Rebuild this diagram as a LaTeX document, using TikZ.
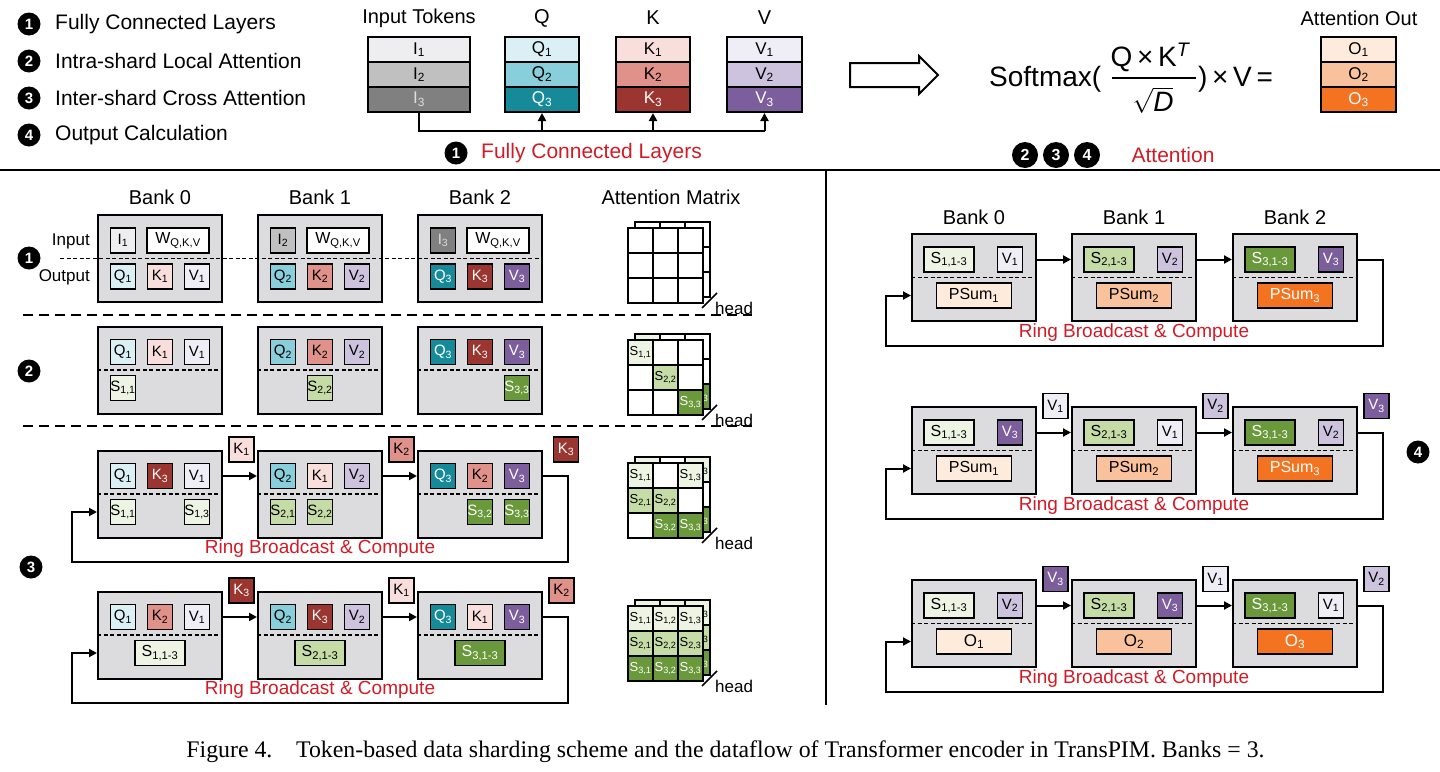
\documentclass[tikz,border=0pt]{standalone}
\usepackage{fontspec}
\setmainfont{Liberation Sans}
\newfontfamily\capfont{Liberation Serif}
\usetikzlibrary{arrows.meta,calc}
\definecolor{bankgray}{HTML}{DCDCDE}
\definecolor{iA}{HTML}{EEEEF0}\definecolor{iB}{HTML}{C0C0C0}\definecolor{iC}{HTML}{808080}\definecolor{iText}{HTML}{DDDDDD}
\definecolor{qA}{HTML}{DAF0F4}\definecolor{qB}{HTML}{88CEDB}\definecolor{qC}{HTML}{168A98}
\definecolor{kA}{HTML}{F8DFDB}\definecolor{kB}{HTML}{E0918A}\definecolor{kC}{HTML}{9B3530}
\definecolor{vA}{HTML}{EFEDF5}\definecolor{vB}{HTML}{CEC3DE}\definecolor{vC}{HTML}{7C5E9C}
\definecolor{sA}{HTML}{EEF4E3}\definecolor{sB}{HTML}{C5DCA6}\definecolor{sC}{HTML}{6A993B}
\definecolor{oA}{HTML}{FEEBDC}\definecolor{oB}{HTML}{F9C29C}\definecolor{oC}{HTML}{F47320}
\definecolor{redtxt}{HTML}{D01C27}
\newcommand\fs[1]{\fontsize{#1}{#1}\selectfont}
\newcommand\sbs[1]{\textsubscript{#1}}
\tikzset{
 every node/.style={inner sep=0pt, font=\fs{15}},
 tok/.style={draw, line width=1.8pt, minimum width=25pt, minimum height=25pt, inner sep=0pt, font=\fs{15}},
 wide/.style={minimum width=50pt},
 wwide/.style={minimum width=62pt},
 pwide/.style={minimum width=75pt},
 bankbox/.style={draw, line width=2pt, fill=bankgray, minimum width=124pt, minimum height=87pt},
 stackcell/.style={draw, line width=2pt, minimum height=25pt, font=\fs{17}},
 num/.style={circle, fill=black, text=white, minimum size=23pt, inner sep=0pt, font=\bfseries\fs{15}},
 arr/.style={line width=2pt, -{Triangle[length=8pt,width=8pt]}},
 conn/.style={line width=2pt},
 ringlbl/.style={text=redtxt, font=\fs{19}},
 indash/.style={line width=1.5pt, dash pattern=on 4pt off 2.5pt},
 sepdash/.style={line width=1.5pt, dash pattern=on 10pt off 6pt},
 banklbl/.style={font=\fs{20}},
 cellln/.style={line width=1.8pt},
 ia/.style={fill=iA}, ib/.style={fill=iB}, ic/.style={fill=iC,text=iText},
 qa/.style={fill=qA}, qb/.style={fill=qB}, qc/.style={fill=qC,text=white},
 ka/.style={fill=kA}, kb/.style={fill=kB}, kc/.style={fill=kC,text=white},
 va/.style={fill=vA}, vb/.style={fill=vB}, vc/.style={fill=vC,text=white},
 sa/.style={fill=sA}, sb/.style={fill=sB}, sc/.style={fill=sC,text=white},
 oa/.style={fill=oA}, ob/.style={fill=oB}, oc/.style={fill=oC,text=white},
}
\newcommand\tk[5]{\node[tok,#2] (#1) at ($(#3)+(#4)$) {#5};}
\newcommand\bkn[2]{\node[bankbox] (#1) at (#2) {};}
\newcommand\bkd[2]{\node[bankbox] (#1) at (#2) {};\draw[indash] (#1.west) -- (#1.east);}
\newcommand\ring[3]{%
 \draw[arr] ([yshift=18pt]#1.east) -- ([yshift=18pt]#2.west);
 \draw[arr] ([yshift=18pt]#2.east) -- ([yshift=18pt]#3.west);
 \draw[arr] ([yshift=18pt]#3.east) -- ++(25,0) |- ($(#1.west)+(-25,68)$) |- ([yshift=-18pt]#1.west);
 \node[ringlbl] (#2rl) at ($(#2.center)+(0,55)$) {Ring Broadcast \& Compute};}
\newcommand\agrid[2]{\foreach \r in {0,1,2}{\foreach \c in {0,1,2}{\draw[cellln, fill=white] ($(#1,#2)+(25*\c,25*\r)$) rectangle ++(25,25);}}}
% back layer: fills for all listed cells, labels only in the right column (they peek out)
\newcommand\bcells[4]{\foreach \r/\c/\fc/\tc/\lab in {#4}{%
  \draw[cellln, fill=\fc] ($(#2,#3)+(25*\c,25*\r)$) rectangle ++(25,25);
  \ifnum\c=2 \node[anchor=west, text=\tc, font=\fs{13}] (#1\r\c) at ($(#2,#3)+(25*\c+1.5,25*\r+12.5)$) {\lab};\fi}}
\newcommand\acells[4]{\foreach \r/\c/\fc/\tc/\lab in {#4}{%
  \draw[cellln, fill=\fc] ($(#2,#3)+(25*\c,25*\r)$) rectangle ++(25,25);
  \node[anchor=west, text=\tc, font=\fs{13}] (#1\r\c) at ($(#2,#3)+(25*\c+1.5,25*\r+12.5)$) {\lab};}}
\newcommand\ahead[3]{\draw[line width=1.5pt] ($(#2,#3)+(74,80)$) -- ++(15,-15);
  \node[anchor=west,font=\fs{17}] (#1h) at ($(#2,#3)+(87,80)$) {head};}
\newcommand\amat[4]{\agrid{#2+7}{#3-6}\bcells{#1b}{#2+7}{#3-6}{#4}\agrid{#2}{#3}\acells{#1f}{#2}{#3}{#4}\ahead{#1}{#2}{#3}}
\begin{document}
\begin{tikzpicture}[x=1pt,y=-1pt]
\useasboundingbox (0,0) rectangle (1440,771);
% ---------- top legend
\node[num] (lg1) at (29,24) {1}; \node[anchor=west,font=\fs{21}] (lt1) at (55,24) {Fully Connected Layers};
\node[num] (lg2) at (29,61) {2}; \node[anchor=west,font=\fs{21}] (lt2) at (55,61) {Intra-shard Local Attention};
\node[num] (lg3) at (29,98) {3}; \node[anchor=west,font=\fs{21}] (lt3) at (55,98) {Inter-shard Cross Attention};
\node[num] (lg4) at (29,135) {4}; \node[anchor=west,font=\fs{21}] (lt4) at (55,135) {Output Calculation};
% ---------- stacks
\node[font=\fs{20}] (hin) at (419,18) {Input Tokens};
\node[stackcell, minimum width=102pt, fill=iA] (in1) at (419,49.5) {I\sbs1};
\node[stackcell, minimum width=102pt, fill=iB] (in2) at (419,74.5) {I\sbs2};
\node[stackcell, minimum width=102pt, fill=iC, text=iText] (in3) at (419,99.5) {I\sbs3};
\node[font=\fs{20}] (hq) at (542,18) {Q};
\node[stackcell, minimum width=74pt, fill=qA] (q1) at (542,49.5) {Q\sbs1};
\node[stackcell, minimum width=74pt, fill=qB] (q2) at (542,74.5) {Q\sbs2};
\node[stackcell, minimum width=74pt, fill=qC, text=white] (q3) at (542,99.5) {Q\sbs3};
\node[font=\fs{20}] (hk) at (653,18) {K};
\node[stackcell, minimum width=74pt, fill=kA] (k1) at (653,49.5) {K\sbs1};
\node[stackcell, minimum width=74pt, fill=kB] (k2) at (653,74.5) {K\sbs2};
\node[stackcell, minimum width=74pt, fill=kC, text=white] (k3) at (653,99.5) {K\sbs3};
\node[font=\fs{20}] (hv) at (764.5,18) {V};
\node[stackcell, minimum width=75pt, fill=vA] (v1) at (764.5,49.5) {V\sbs1};
\node[stackcell, minimum width=75pt, fill=vB] (v2) at (764.5,74.5) {V\sbs2};
\node[stackcell, minimum width=75pt, fill=vC, text=white] (v3) at (764.5,99.5) {V\sbs3};
\node[font=\fs{20}] (ho) at (1359,18) {Attention Out};
\node[stackcell, minimum width=75pt, fill=oA] (o1) at (1358.5,49.5) {O\sbs1};
\node[stackcell, minimum width=75pt, fill=oB] (o2) at (1358.5,74.5) {O\sbs2};
\node[stackcell, minimum width=75pt, fill=oC, text=white] (o3) at (1358.5,99.5) {O\sbs3};
\coordinate (fcl) at (0,131);
\draw[conn] (in3.south) |- (v3.south |- fcl);
\draw[arr] (q3.south |- fcl) -- (q3.south);
\draw[arr] (k3.south |- fcl) -- (k3.south);
\draw[arr] (v3.south |- fcl) -- (v3.south);
\node[num] (fc1) at (456,153) {1};
\node[anchor=west, text=redtxt, font=\fs{21}] (fct) at (481,153) {Fully Connected Layers};
% big hollow arrow
\draw[line width=2pt, fill=white, line join=miter] (850,63) -- (919,63) -- (919,56) -- (938,75) -- (919,94) -- (919,87) -- (850,87) -- cycle;
% formula
\node[anchor=base west, font=\fs{28}] (smx) at (989,86) {Softmax(};
\node[anchor=base, font=\fs{28}] (numr) at (1150,66) {Q\,×\,K\textsuperscript{\itshape T}};
\draw[line width=1.5pt] (1112,78) -- (1196,78);
\node[anchor=base, font=\fs{28}] (denr) at (1153,111) {$\sqrt{\mbox{\itshape D}}$};
\node[anchor=base west, font=\fs{28}] (rest) at (1198,86) {)\,×\,V\,=};
\node[num, minimum size=26pt, font=\bfseries\fs{16}] (c2) at (1025,155) {2};
\node[num, minimum size=26pt, font=\bfseries\fs{16}] (c3) at (1056,155) {3};
\node[num, minimum size=26pt, font=\bfseries\fs{16}] (c4) at (1087,155) {4};
\node[text=redtxt, font=\fs{21}] (att) at (1173,155) {Attention};
% separators
\draw[line width=1.5pt] (0,170) -- (1440,170);
\draw[line width=1.5pt] (826,170) -- (826,705);
\draw[sepdash] (23,315) -- (752,315);
\draw[sepdash] (23,426) -- (752,426);
% ---------- left labels
\node[banklbl] (lb0) at (160,197) {Bank 0};
\node[banklbl] (lb1) at (320,197) {Bank 1};
\node[banklbl] (lb2) at (480,197) {Bank 2};
\node[banklbl] (lam) at (671,197) {Attention Matrix};
\node[num] (n1) at (29,258) {1};
\node[num] (n2) at (29,371) {2};
\node[num] (n3) at (31,567) {3};
\node[anchor=east,font=\fs{17}] (inl) at (90,241) {Input};
\node[anchor=east,font=\fs{17}] (outl) at (90,277) {Output};
% ---------- left row A
\bkn{LA0}{160,258.5}\bkn{LA1}{320,258.5}\bkn{LA2}{480,258.5}
\draw[indash] (60,258.5) -- (LA2.east);
\tk{LA0i}{ia}{LA0}{-37,-18}{I\sbs1}
\tk{LA0w}{wwide,fill=white}{LA0}{18,-18}{\fs{16}W\sbs{Q,K,V}}
\tk{LA0q}{qa}{LA0}{-37,18}{Q\sbs1}\tk{LA0k}{ka}{LA0}{0,18}{K\sbs1}\tk{LA0v}{va}{LA0}{37,18}{V\sbs1}
\tk{LA1i}{ib}{LA1}{-37,-18}{I\sbs2}
\tk{LA1w}{wwide,fill=white}{LA1}{18,-18}{\fs{16}W\sbs{Q,K,V}}
\tk{LA1q}{qb}{LA1}{-37,18}{Q\sbs2}\tk{LA1k}{kb}{LA1}{0,18}{K\sbs2}\tk{LA1v}{vb}{LA1}{37,18}{V\sbs2}
\tk{LA2i}{ic}{LA2}{-37,-18}{I\sbs3}
\tk{LA2w}{wwide,fill=white}{LA2}{18,-18}{\fs{16}W\sbs{Q,K,V}}
\tk{LA2q}{qc}{LA2}{-37,18}{Q\sbs3}\tk{LA2k}{kc}{LA2}{0,18}{K\sbs3}\tk{LA2v}{vc}{LA2}{37,18}{V\sbs3}
% ---------- left row B
\bkd{LB0}{160,370}\bkd{LB1}{320,370}\bkd{LB2}{480,370}
\tk{LB0q}{qa}{LB0}{-37,-18}{Q\sbs1}\tk{LB0k}{ka}{LB0}{0,-18}{K\sbs1}\tk{LB0v}{va}{LB0}{37,-18}{V\sbs1}
\tk{LB0s}{sa}{LB0}{-37,18}{S\sbs{1,1}}
\tk{LB1q}{qb}{LB1}{-37,-18}{Q\sbs2}\tk{LB1k}{kb}{LB1}{0,-18}{K\sbs2}\tk{LB1v}{vb}{LB1}{37,-18}{V\sbs2}
\tk{LB1s}{sb}{LB1}{0,18}{S\sbs{2,2}}
\tk{LB2q}{qc}{LB2}{-37,-18}{Q\sbs3}\tk{LB2k}{kc}{LB2}{0,-18}{K\sbs3}\tk{LB2v}{vc}{LB2}{37,-18}{V\sbs3}
\tk{LB2s}{sc}{LB2}{37,18}{S\sbs{3,3}}
% ---------- left row C
\bkd{LC0}{160,494}\bkd{LC1}{320,494}\bkd{LC2}{480,494}
\tk{LC0q}{qa}{LC0}{-37,-18}{Q\sbs1}\tk{LC0k}{kc}{LC0}{0,-18}{K\sbs3}\tk{LC0v}{va}{LC0}{37,-18}{V\sbs1}
\tk{LC0s}{sa}{LC0}{-37,18}{S\sbs{1,1}}\tk{LC0t}{sa}{LC0}{37,18}{S\sbs{1,3}}
\tk{LC1q}{qb}{LC1}{-37,-18}{Q\sbs2}\tk{LC1k}{ka}{LC1}{0,-18}{K\sbs1}\tk{LC1v}{vb}{LC1}{37,-18}{V\sbs2}
\tk{LC1s}{sb}{LC1}{-37,18}{S\sbs{2,1}}\tk{LC1t}{sb}{LC1}{0,18}{S\sbs{2,2}}
\tk{LC2q}{qc}{LC2}{-37,-18}{Q\sbs3}\tk{LC2k}{kb}{LC2}{0,-18}{K\sbs2}\tk{LC2v}{vc}{LC2}{37,-18}{V\sbs3}
\tk{LC2s}{sc}{LC2}{0,18}{S\sbs{3,2}}\tk{LC2t}{sc}{LC2}{37,18}{S\sbs{3,3}}
\ring{LC0}{LC1}{LC2}
\tk{LCf0}{ka}{LC0.north east}{18.5,0}{K\sbs1}
\tk{LCf1}{kb}{LC1.north east}{18.5,0}{K\sbs2}
\tk{LCf2}{kc}{LC2.north east}{23,0}{K\sbs3}
% ---------- left row D
\bkd{LD0}{160,635}\bkd{LD1}{320,635}\bkd{LD2}{480,635}
\tk{LD0q}{qa}{LD0}{-37,-18}{Q\sbs1}\tk{LD0k}{kb}{LD0}{0,-18}{K\sbs2}\tk{LD0v}{va}{LD0}{37,-18}{V\sbs1}
\tk{LD0s}{sa,wide}{LD0}{0,18}{\fs{16}S\sbs{1,1-3}}
\tk{LD1q}{qb}{LD1}{-37,-18}{Q\sbs2}\tk{LD1k}{kc}{LD1}{0,-18}{K\sbs3}\tk{LD1v}{vb}{LD1}{37,-18}{V\sbs2}
\tk{LD1s}{sb,wide}{LD1}{0,18}{\fs{16}S\sbs{2,1-3}}
\tk{LD2q}{qc}{LD2}{-37,-18}{Q\sbs3}\tk{LD2k}{ka}{LD2}{0,-18}{K\sbs1}\tk{LD2v}{vc}{LD2}{37,-18}{V\sbs3}
\tk{LD2s}{sc,wide}{LD2}{0,18}{\fs{16}S\sbs{3,1-3}}
\ring{LD0}{LD1}{LD2}
\tk{LDf0}{kc}{LD0.north east}{18.5,0}{K\sbs3}
\tk{LDf1}{ka}{LD1.north east}{18.5,0}{K\sbs1}
\tk{LDf2}{kb}{LD2.north east}{18.5,0}{K\sbs2}
% ---------- attention matrices
\agrid{635}{222}\agrid{628}{228}\ahead{mA}{628}{228}
\amat{mB}{628}{340}{0/0/sA/black/{S\sbs{1,1}},1/1/sB/black/{S\sbs{2,2}},2/2/sC/white/{S\sbs{3,3}}}
\amat{mC}{628}{463}{0/0/sA/black/{S\sbs{1,1}},0/2/sA/black/{S\sbs{1,3}},1/0/sB/black/{S\sbs{2,1}},1/1/sB/black/{S\sbs{2,2}},2/1/sC/white/{S\sbs{3,2}},2/2/sC/white/{S\sbs{3,3}}}
\amat{mD}{628}{606}{0/0/sA/black/{S\sbs{1,1}},0/1/sA/black/{S\sbs{1,2}},0/2/sA/black/{S\sbs{1,3}},1/0/sB/black/{S\sbs{2,1}},1/1/sB/black/{S\sbs{2,2}},1/2/sB/black/{S\sbs{2,3}},2/0/sC/white/{S\sbs{3,1}},2/1/sC/white/{S\sbs{3,2}},2/2/sC/white/{S\sbs{3,3}}}
% ---------- right section
\node[banklbl] (rb0) at (974,217) {Bank 0};
\node[banklbl] (rb1) at (1134,217) {Bank 1};
\node[banklbl] (rb2) at (1295,217) {Bank 2};
\node[num] (n4) at (1418,452) {4};
% row RA
\bkd{RA0}{974,277.5}\bkd{RA1}{1134,277.5}\bkd{RA2}{1295,277.5}
\tk{RA0s}{sa,wide}{RA0}{-25,-18}{\fs{16}S\sbs{1,1-3}}\tk{RA0v}{va}{RA0}{36,-18}{V\sbs1}\tk{RA0p}{oa,pwide}{RA0}{0,18}{\fs{16}PSum\sbs1}
\tk{RA1s}{sb,wide}{RA1}{-25,-18}{\fs{16}S\sbs{2,1-3}}\tk{RA1v}{vb}{RA1}{36,-18}{V\sbs2}\tk{RA1p}{ob,pwide}{RA1}{0,18}{\fs{16}PSum\sbs2}
\tk{RA2s}{sc,wide}{RA2}{-25,-18}{\fs{16}S\sbs{3,1-3}}\tk{RA2v}{vc}{RA2}{36,-18}{V\sbs3}\tk{RA2p}{oc,pwide}{RA2}{0,18}{\fs{16}PSum\sbs3}
\ring{RA0}{RA1}{RA2}
% row RB
\bkd{RB0}{974,450.5}\bkd{RB1}{1134,450.5}\bkd{RB2}{1295,450.5}
\tk{RB0s}{sa,wide}{RB0}{-25,-18}{\fs{16}S\sbs{1,1-3}}\tk{RB0v}{vc}{RB0}{36,-18}{V\sbs3}\tk{RB0p}{oa,pwide}{RB0}{0,18}{\fs{16}PSum\sbs1}
\tk{RB1s}{sb,wide}{RB1}{-25,-18}{\fs{16}S\sbs{2,1-3}}\tk{RB1v}{va}{RB1}{36,-18}{V\sbs1}\tk{RB1p}{ob,pwide}{RB1}{0,18}{\fs{16}PSum\sbs2}
\tk{RB2s}{sc,wide}{RB2}{-25,-18}{\fs{16}S\sbs{3,1-3}}\tk{RB2v}{vb}{RB2}{36,-18}{V\sbs2}\tk{RB2p}{oc,pwide}{RB2}{0,18}{\fs{16}PSum\sbs3}
\ring{RB0}{RB1}{RB2}
\tk{RBf0}{va}{RB0.north east}{18.5,0}{V\sbs1}
\tk{RBf1}{vb}{RB1.north east}{18.5,0}{V\sbs2}
\tk{RBf2}{vc}{RB2.north east}{18.5,0}{V\sbs3}
% row RC
\bkd{RC0}{974,623.5}\bkd{RC1}{1134,623.5}\bkd{RC2}{1295,623.5}
\tk{RC0s}{sa,wide}{RC0}{-25,-18}{\fs{16}S\sbs{1,1-3}}\tk{RC0v}{vb}{RC0}{36,-18}{V\sbs2}\tk{RC0p}{oa,pwide}{RC0}{0,18}{\fs{17}O\sbs1}
\tk{RC1s}{sb,wide}{RC1}{-25,-18}{\fs{16}S\sbs{2,1-3}}\tk{RC1v}{vc}{RC1}{36,-18}{V\sbs3}\tk{RC1p}{ob,pwide}{RC1}{0,18}{\fs{17}O\sbs2}
\tk{RC2s}{sc,wide}{RC2}{-25,-18}{\fs{16}S\sbs{3,1-3}}\tk{RC2v}{va}{RC2}{36,-18}{V\sbs1}\tk{RC2p}{oc,pwide}{RC2}{0,18}{\fs{17}O\sbs3}
\ring{RC0}{RC1}{RC2}
\tk{RCf0}{vc}{RC0.north east}{18.5,0}{V\sbs3}
\tk{RCf1}{va}{RC1.north east}{18.5,0}{V\sbs1}
\tk{RCf2}{vb}{RC2.north east}{18.5,0}{V\sbs2}
% ---------- caption
\node[font=\capfont\fs{23.8}] (cap) at (725.5,752) {Figure 4.\quad Token-based data sharding scheme and the dataflow of Transformer encoder in TransPIM. Banks = 3.};
\end{tikzpicture}
\end{document}
